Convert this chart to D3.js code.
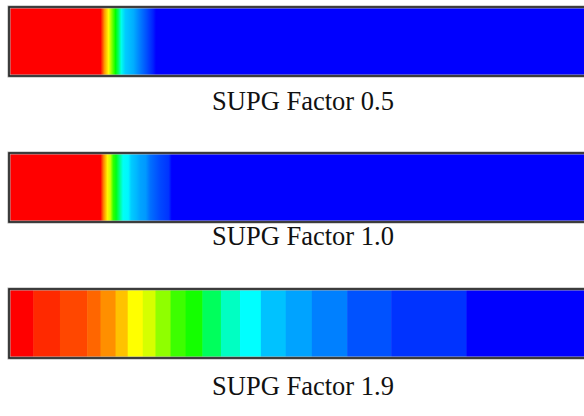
<!DOCTYPE html>
<html>
<head>
<meta charset="utf-8">
<script src="https://cdn.jsdelivr.net/npm/d3@7"></script>
<style>
  body { margin: 0; background: #fff; }
  svg { display: block; }
</style>
</head>
<body>
<div id="chart"></div>
<script>
// Labels under each strip
const labels = ["SUPG Factor 0.5", "SUPG Factor 1.0", "SUPG Factor 1.9"];

// Smooth profiles: position along channel (% of length) and scalar value (0..1)
const pos05 = [0, 15.8, 16.5, 17.2, 17.9, 18.4, 18.9, 19.4, 20.1, 21.5, 22.7, 23.7, 24.9, 25.4, 100];
const val05 = [1, 1, 0.85, 0.75, 0.6, 0.5, 0.4, 0.27, 0.2, 0.17, 0.12, 0.08, 0.03, 0, 0];

const pos10 = [0, 15.8, 16.3, 17.0, 17.5, 18.0, 18.5, 19.2, 19.7, 20.6, 21.1, 22.0, 22.7, 23.6, 24.4, 26.2, 27.6, 28.1, 100];
const val10 = [1, 1, 0.88, 0.76, 0.7, 0.55, 0.48, 0.35, 0.26, 0.24, 0.2, 0.18, 0.16, 0.15, 0.11, 0.07, 0.05, 0, 0];

// Banded profile (factor 1.9): band edges and one value per band
const edges19 = [0, 4.2, 8.8, 13.5, 15.8, 18.4, 20.5, 23.1, 25.3, 27.9, 30.5, 33.4, 36.6, 39.9, 43.5, 47.8, 52.3, 58.4, 66.0, 79.0, 100];
const val19 = [1.0, 0.96, 0.93, 0.90, 0.86, 0.81, 0.75, 0.71, 0.64, 0.56, 0.52, 0.41, 0.31, 0.25, 0.19, 0.16, 0.125, 0.08, 0.05, 0.0];

const width = 584, height = 416;
const barTops = [7, 153, 289];
const barH = 69;
const labelY = [110, 245, 395];

const svg = d3.select("#chart").append("svg")
    .attr("width", width)
    .attr("height", height);

const x = d3.scaleLinear().domain([0, 100]).range([9, 588]);

// rainbow colour map blue -> cyan -> green -> yellow -> red
const colour = d3.scaleLinear()
    .domain([0, 0.25, 0.5, 0.75, 1])
    .range(["#0000ff", "#00ffff", "#00ff00", "#ffff00", "#ff0000"]);

const defs = svg.append("defs");

function smoothStrip(i, pos, vals) {
    const id = "grad" + i;
    const grad = defs.append("linearGradient")
        .attr("id", id)
        .attr("gradientUnits", "userSpaceOnUse")
        .attr("x1", x(0)).attr("x2", x(100))
        .attr("y1", 0).attr("y2", 0);
    grad.selectAll("stop")
        .data(pos)
        .enter().append("stop")
        .attr("offset", d => d + "%")
        .attr("stop-color", (d, j) => colour(vals[j]));

    svg.append("rect")
        .attr("x", x(0))
        .attr("y", barTops[i])
        .attr("width", x(100) - x(0))
        .attr("height", barH)
        .attr("fill", "url(#" + id + ")");
}

smoothStrip(0, pos05, val05);
smoothStrip(1, pos10, val10);

// banded strip
svg.append("g").selectAll("rect")
    .data(val19)
    .enter().append("rect")
    .attr("x", (d, j) => x(edges19[j]))
    .attr("y", barTops[2])
    .attr("width", (d, j) => x(edges19[j + 1]) - x(edges19[j]) + 0.5)
    .attr("height", barH)
    .attr("fill", d => colour(d));

// dark frame around each strip
barTops.forEach(function (t) {
    svg.append("rect")
        .attr("x", x(0))
        .attr("y", t)
        .attr("width", x(100) - x(0))
        .attr("height", barH)
        .attr("fill", "none")
        .attr("stroke", "#aaa")
        .attr("stroke-width", 3);
    svg.append("rect")
        .attr("x", x(0))
        .attr("y", t)
        .attr("width", x(100) - x(0))
        .attr("height", barH)
        .attr("fill", "none")
        .attr("stroke", "#222")
        .attr("stroke-width", 1.6);
});

// labels
svg.selectAll(".lbl")
    .data(labels)
    .enter().append("text")
    .attr("class", "lbl")
    .attr("x", 303)
    .attr("y", (d, i) => labelY[i])
    .attr("text-anchor", "middle")
    .style("font-family", "'Liberation Serif', 'Times New Roman', serif")
    .style("font-size", "26.5px")
    .style("fill", "#111")
    .text(d => d);
</script>
</body>
</html>
